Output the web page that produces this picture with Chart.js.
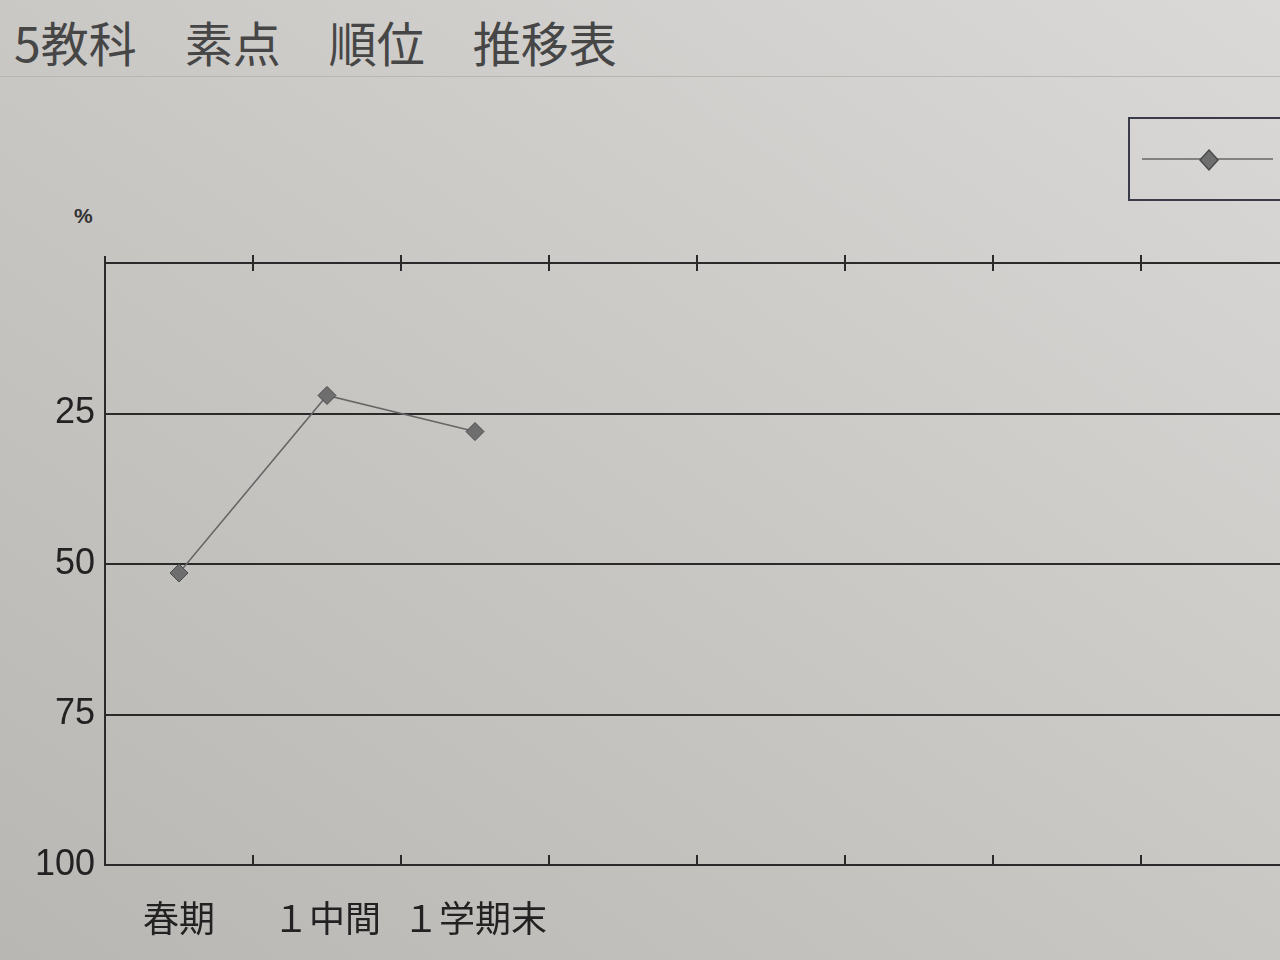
<!DOCTYPE html>
<html lang="ja">
<head>
<meta charset="utf-8">
<script src="https://cdn.jsdelivr.net/npm/chart.js@4/dist/chart.umd.min.js"></script>
<style>
  html, body {
    margin: 0;
    padding: 0;
    width: 1280px;
    height: 960px;
    overflow: hidden;
  }
  body {
    position: relative;
    background: linear-gradient(35deg, #b9b7b3 0%, #c8c6c3 45%, #dad9d7 100%);
  }
  #title {
    position: absolute;
    left: 14px;
    top: 6px;
    font-family: "Noto Sans CJK JP", sans-serif;
    font-size: 48px;
    color: #464646;
    white-space: pre;
  }
  #rule {
    position: absolute;
    left: 0;
    top: 76px;
    width: 1280px;
    border-top: 1px solid #b8b6b3;
  }
  #pct {
    position: absolute;
    left: 74px;
    top: 204px;
    font-family: "Liberation Sans", sans-serif;
    font-size: 21px;
    font-weight: bold;
    color: #333;
  }
  #wrap {
    position: absolute;
    left: 0;
    top: 0;
    width: 1460px;
    height: 960px;
  }
</style>
</head>
<body>
<div id="title">5教科　素点　順位　推移表</div>
<div id="rule"></div>
<div id="pct">%</div>
<div id="wrap"><canvas id="myChart"></canvas></div>
<script>
'use strict';

const termLabels = ['春期', '１中間', '１学期末', '', '', '', '', '', ''];
const rankPercent = [51.5, 22, 28, null, null, null, null, null, null];
const yTicks = [0, 25, 50, 75, 100];

const inkColor = '#2a2a2a';
const lineColor = '#666666';
const markerColor = '#6e6e6e';

// little tick marks on the top and bottom borders, at category edges
const tickMarks = {
  id: 'tickMarks',
  afterDraw(chart) {
    const ctx = chart.ctx;
    const area = chart.chartArea;
    const xScale = chart.scales.x;
    const step = xScale.getPixelForValue(1) - xScale.getPixelForValue(0);
    ctx.save();
    ctx.strokeStyle = inkColor;
    ctx.lineWidth = 2;
    ctx.beginPath();
    for (let i = 0; i < termLabels.length; i++) {
      const x = xScale.getPixelForValue(i) + step / 2;
      ctx.moveTo(x, area.top - 8);
      ctx.lineTo(x, area.top + 8);
      ctx.moveTo(x, area.bottom);
      ctx.lineTo(x, area.bottom - 10);
    }
    ctx.moveTo(area.left, area.top);
    ctx.lineTo(area.left, area.top - 7);
    ctx.stroke();
    ctx.restore();
  }
};

// boxed legend in the upper right, no label text
const boxLegend = {
  id: 'boxLegend',
  afterDraw(chart) {
    const ctx = chart.ctx;
    ctx.save();
    ctx.strokeStyle = '#3a3a4a';
    ctx.lineWidth = 2;
    ctx.strokeRect(1129, 118, 170, 82);
    ctx.strokeStyle = lineColor;
    ctx.lineWidth = 1.5;
    ctx.beginPath();
    ctx.moveTo(1142, 159);
    ctx.lineTo(1273, 159);
    ctx.stroke();
    ctx.fillStyle = markerColor;
    ctx.strokeStyle = '#4a4a4a';
    ctx.beginPath();
    ctx.moveTo(1209, 150);
    ctx.lineTo(1218, 160);
    ctx.lineTo(1209, 170);
    ctx.lineTo(1200, 160);
    ctx.closePath();
    ctx.fill();
    ctx.stroke();
    ctx.restore();
  }
};

function renderChart() {
  const data = {
    labels: termLabels,
    datasets: [
      {
        label: '',
        data: rankPercent,
        borderColor: lineColor,
        borderWidth: 1.5,
        pointStyle: 'rectRot',
        pointRadius: 9,
        pointBackgroundColor: markerColor,
        pointBorderColor: '#4a4a4a',
        pointBorderWidth: 1,
        spanGaps: false,
      },
    ],
  };

  const config = {
    type: 'line',
    data: data,
    options: {
      responsive: false,
      animation: false,
      layout: {
        padding: { top: 263, right: 23, left: 0, bottom: 0 },
      },
      plugins: {
        legend: { display: false },
        title: { display: false },
        tooltip: { enabled: false },
      },
      scales: {
        x: {
          offset: true,
          grid: { display: false },
          border: { display: true, color: inkColor, width: 2 },
          ticks: {
            color: '#222',
            font: { family: '"Noto Sans CJK JP", sans-serif', size: 36 },
            padding: 24,
            maxRotation: 0,
            autoSkip: false,
          },
          afterFit(scale) {
            scale.height = 95;
          },
        },
        y: {
          reverse: true,
          min: 0,
          max: 100,
          afterBuildTicks(scale) {
            scale.ticks = yTicks.map(v => ({ value: v }));
          },
          grid: {
            color: inkColor,
            lineWidth: 2,
            drawTicks: false,
          },
          border: { display: true, color: inkColor, width: 2 },
          ticks: {
            color: '#222',
            font: { family: '"Liberation Sans", sans-serif', size: 36 },
            padding: 10,
            callback: v => (v === 0 ? '' : String(v)),
          },
          afterFit(scale) {
            scale.width = 105;
          },
        },
      },
    },
    plugins: [tickMarks, boxLegend],
  };

  const canvasChart = document.getElementById('myChart');
  canvasChart.width = 1460;
  canvasChart.height = 960;
  new Chart(canvasChart, config);
}

renderChart();
</script>
</body>
</html>
